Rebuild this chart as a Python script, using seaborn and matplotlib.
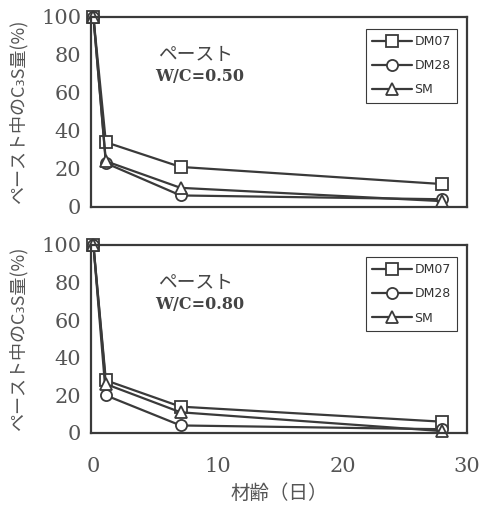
import pandas as pd
import numpy as np
import matplotlib
matplotlib.use("Agg")
import matplotlib.pyplot as plt
import seaborn as sns

# ==========================================
# データ (材齢とC3S量)
# ==========================================
age_days = [0, 1, 7, 28]
series_names = ["DM07", "DM28", "SM"]
series_markers = ["s", "o", "^"]

# W/C=0.50
wc050_dm07 = [100, 34, 21, 12]
wc050_dm28 = [100, 23, 6, 4]
wc050_sm = [100, 24, 10, 3]

# W/C=0.80
wc080_dm07 = [100, 28, 14, 6]
wc080_dm28 = [100, 20, 4, 2]
wc080_sm = [100, 26, 11, 1]

panel_labels = ["W/C=0.50", "W/C=0.80"]
y_ticks = [0, 20, 40, 60, 80, 100]
x_ticks = [0, 10, 20, 30]

# ==========================================
# 描画設定
# ==========================================
sns.set_theme(style="white")
plt.rcParams['font.family'] = ['Noto Sans CJK JP', 'DejaVu Sans']
ink = "#3a3a3a"
serif = ['DejaVu Serif']


def to_long(vals):
    rows = []
    for name, v in zip(series_names, vals):
        for a, y in zip(age_days, v):
            rows.append({"age": a, "c3s": y, "series": name})
    return pd.DataFrame(rows)


def draw_panel(ax, df, label, show_x):
    for name, mk in zip(series_names, series_markers):
        sub = df[df["series"] == name]
        sns.lineplot(data=sub, x="age", y="c3s", ax=ax, color=ink,
                     marker=mk, markersize=8, markerfacecolor="white",
                     markeredgecolor=ink, markeredgewidth=1.3,
                     linewidth=1.6, label=name, clip_on=False)
    ax.set_xlim(-0.2, 30)
    ax.set_ylim(0, 100)
    ax.set_xticks(x_ticks)
    ax.set_yticks(y_ticks)
    ax.tick_params(direction="in", length=4, width=1, colors=ink,
                   labelsize=15, labelcolor="#555555", pad=7)
    ax.tick_params(axis="x", pad=17)
    for t in ax.get_xticklabels() + ax.get_yticklabels():
        t.set_family(serif)
    if not show_x:
        ax.set_xticklabels([])
    for sp in ax.spines.values():
        sp.set_color(ink)
        sp.set_linewidth(1.6)
    ax.set_xlabel("")
    ax.set_ylabel("ペースト中のC₃S量(%)", fontsize=13, color="#555555")
    ax.yaxis.set_label_coords(-0.168, 0.5)
    ax.text(0.178, 0.80, "ペースト", transform=ax.transAxes, fontsize=13.5,
            color="#444444", va="center")
    ax.text(0.172, 0.685, label, transform=ax.transAxes, fontsize=11.5,
            color="#444444", va="center", fontweight="bold", family=serif)
    leg = ax.legend(loc="upper right", bbox_to_anchor=(0.99, 0.97),
                    fancybox=False, framealpha=1, edgecolor=ink,
                    fontsize=9, handlelength=3.2, labelspacing=0.9,
                    borderpad=0.5, handletextpad=0.2)
    leg.get_frame().set_linewidth(0.8)
    for t in leg.get_texts():
        t.set_color("#333333")
        t.set_family(['DejaVu Sans'])


fig = plt.figure(figsize=(4.81, 5.07), dpi=100)
ax1 = fig.add_axes([0.189, 0.592, 0.782, 0.375])
ax2 = fig.add_axes([0.189, 0.146, 0.782, 0.371])

draw_panel(ax1, to_long([wc050_dm07, wc050_dm28, wc050_sm]), panel_labels[0], False)
draw_panel(ax2, to_long([wc080_dm07, wc080_dm28, wc080_sm]), panel_labels[1], True)
ax2.set_xlabel("材齢（日）", fontsize=14, color="#555555")
ax2.xaxis.set_label_coords(0.5, -0.265)

fig.savefig("out.png", dpi=100, facecolor="white")
